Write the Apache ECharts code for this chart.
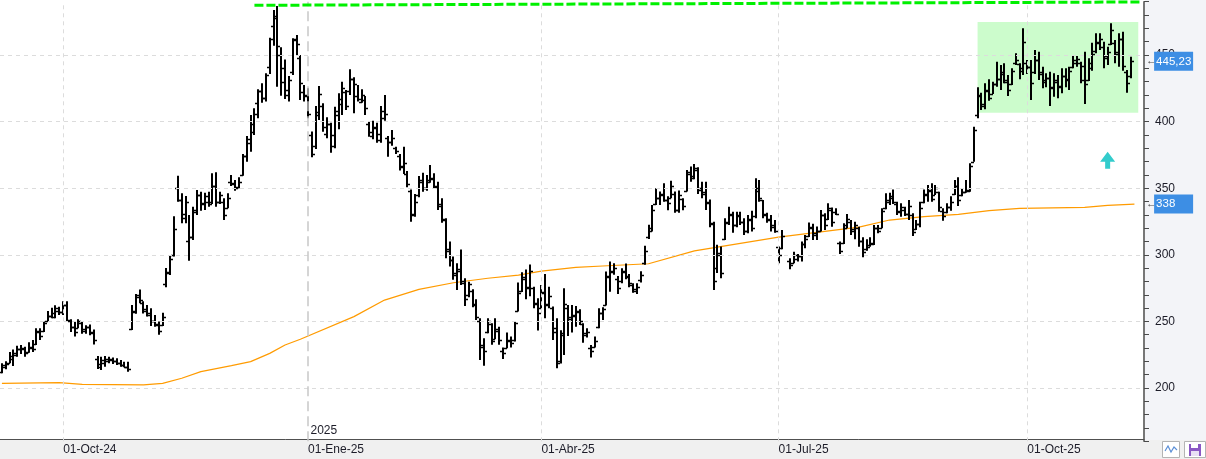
<!DOCTYPE html>
<html>
<head>
<meta charset="utf-8">
<script src="https://cdn.jsdelivr.net/npm/echarts@6/dist/echarts.min.js"></script>
<style>
html, body { margin: 0; padding: 0; background: #fff; }
#chart { width: 1206px; height: 459px; }
</style>
</head>
<body>
<div id="chart"></div>
<script>
// daily bars [open, high, low, close]; null = empty slot
const bars = [
  [212,218.5,211,217],[216,220,214,218],[219,227,218.5,224],[222,229,216.6,226],[225,231.8,223.5,229],
  [229,232.3,225.5,230],[229,231,223.5,226],[227,234.3,226.5,231],[230,236,227,229],[233,244.8,232.3,243],
  [242,244.8,236,239],[243,250,242,249],[250,257.8,250,254],[254,260.3,252.3,256],[253,262.2,252.3,260],
  [258,261,254.8,257],[257,265.2,254.8,262],[262,265.2,249.5,251],[250,251.6,242,246],[246,250,238.7,242],
  [245,251.6,244.8,250],[249,250,240.7,243],[244,247.2,240.7,246],[246,247.7,239.7,241],[242,243.9,232.6,236],
  [222,224,214.3,218],[216,223.5,213.5,221],[219,224,216,222],[220,223.5,218.5,222],[221,223,218,220],
  [220,222.3,217.3,219],[219,221,216,217],[217,219.8,215.5,216],[216,219.8,212.3,214],[244,262.3,243.5,258],
  [257,270.5,255.8,268],[270,274,263.7,266],[264,265.2,256,259],[258,262.3,253.6,255],[256,259.8,246.6,250],
  [250,254.8,246,248],[247,250,240,243],[247,256.5,246.6,253],[278,290,275.6,286],[287,299.4,284.9,297],
  [300,329,298.7,319],[350,359.4,339.9,341],[341,346.2,323.7,331],[328,344.1,323.7,340],[310,329.9,295.6,313],
  [313,336.1,311.1,332],[334,348.7,329.9,345],[345,347.4,333.1,338],[339,346.6,333.6,344],[340,347.4,336.1,338],
  [340,361.2,338.2,352],[352,361.9,336.1,340],[340,347.4,338.2,345],[340,342.4,326.1,330],[335,346.2,334.9,343],
  [355,359.9,351.7,354],[353,356.2,348.1,350],[351,358.2,350,355],[360,375.7,359.4,374],[374,389.2,369.9,387],
  [384,405,377.4,398],[392,410,390,406],[414,424.2,402.5,423],[423,428.8,414.2,418],[418,436.3,415,435],
  [441,463,435.7,462],[472,483.8,457,479],[478,486.8,426.2,457],[450,455.8,419.4,440],[430,446.7,417,424],
  [420,434.2,415,431],[437,462.5,435,461],[462,465,450,458],[448,450,416.2,429],[422,427.5,415,419],
  [420,425,402.5,406],[390,392.5,373.2,376],[382,411.7,379.5,405],[407,426.7,401.2,421],[412,413.7,392.4,396],
  [391,403.3,387.5,398],[398,399.2,376.7,390],[382,411.2,380,408],[405,421.2,394.2,417],[413,430,405,425],
  [422,423.7,408.7,412],[423,439.3,420,432],[432,433.3,406.2,428],[419,427.5,415,417],[414.5,424.2,414.2,420],
  [416,419.2,405,410],[398,400,388.7,392],[389,400.7,386.7,395],[396,399.2,384.2,391],[386,411.7,384.2,408],
  [403,420,400.7,406],[388,389.2,373.7,385],[385,393.7,381.8,388],[380,381.2,375.7,378],[374,375.7,363.2,366],
  [367,381.2,360.7,369],[361,363,350.7,353],[348,349.1,324.9,330],[331,345.6,328.6,340],[345,359.2,343.2,356],
  [355,361.6,347.4,350],[350,359.9,348.1,355],[356,367.4,354.1,358],[357,361.2,350,352],[351,354.9,333.6,337],
  [338,342.4,324.1,327],[326,327.4,297.4,303],[304,309.9,291.2,296],[296,298.7,281.2,286],[285,293.7,273.6,289],
  [288,304,277.3,279],[280,282.4,261.6,267],[270,279.8,268.1,278],[273,274.1,260.6,263],[262,266.6,251.1,253],
  [250,252.3,221,231],[232,237.3,216.8,228],[242,252.3,241.1,250],[248,248.6,232.4,235],[237,252.3,236.6,244],
  [243,246,232.4,236],[228,230.5,221.7,226],[230,241.7,229.9,236],[235,238.7,230.5,234],[236,250,235,249],
  [258,279.2,257.4,271],[273,286.9,272.1,283],[282,288.9,266.6,275],[276,292.7,268.9,288],[275,276.1,259.8,264],
  [263,267.4,243.1,256],[260,277.3,259.8,272],[271,285.6,252.3,262],[263,276.1,259.8,269],[260,261.1,236.1,242],
  [245,252.3,214.8,219],[220,243.4,218.4,240],[241,274.8,224.8,263],[260,262.3,239,253],[252,262.3,241.6,255],
  [254,261.6,246,258],[257,259.1,247.3,250],[248,248.6,234,241],[240,244.8,238,242],[230,232.3,223,228],
  [231,238.7,230.5,235],[246,259.8,244.8,256],[256,260.6,251.1,259],[262,287.5,262,284],[283,295,272.3,287],
  [288,293.7,285,290],[282,284.1,270.6,275],[280,289.9,278.6,288],[287,293.5,281.6,284],[283,285.6,275.6,279],
  [277,278.6,271.6,273],[274,278.6,270.6,276],[281,287.6,279.2,285],[294,306.8,292.5,303],[313,322.6,311.8,318],
  [320,337.4,317.4,334],[338,350,337.4,343],[343,347.5,337.4,346],[345,353.8,339.9,341],[341,343.9,333.4,339],
  [343,355.6,342.4,352],[346,347.5,331.6,334],[334,348.2,331.6,345],[342,342.4,333.4,337],[348,363.7,347.5,362],
  [361,366.2,354.9,358],[359,368.2,356.7,365],[364,365.7,345.6,349],[350,354.9,342.4,346],[347,354.9,333.6,340],
  [339,341.6,320.6,324],[323,324.9,273.6,280],[290,307.5,286.3,301],[300,306.2,282.4,286],[312,327.4,311.1,325],
  [324,336.1,322.4,331],[330,332.4,316.6,322],[322,332.4,320.6,330],[329,332.4,322.4,325],[325,327.4,314.9,318],
  [318,329.9,316.2,327],[326,333.1,317.4,320],[329,357.4,327.4,348],[350,356.2,339.9,343],[341,341.1,327.4,331],
  [330,331.6,324.1,327],[326,329.9,317.4,322],[321,326.1,316.6,318],[306,306.2,293.7,300],[305,318.6,304.1,314],
  null,
  [295,297.5,289.2,292],[294,302.3,293.7,300],[297,300.6,294.9,299],[299,309.9,294.9,308],[308,314.9,304.9,312],
  [314,324.3,313.3,321],[320,323.3,311.1,315],[316,321.3,311.1,318],[318,333.6,317.4,330],[330,331.1,318.6,322],
  [327,338.7,326.1,335],[334,335.6,321.1,325],[332,334.9,329.9,331],[309,309.9,300.6,303],[309,323.6,308.1,320],
  [322,330.6,319.9,327],[325,326.1,314.9,318],[319,324.9,311.6,322],[320,321.1,306.1,310],[310,313.1,298.1,302],
  [304,311.6,303.1,306],[307,313.1,306.1,309],[308,322.4,307.4,320],[320,322.4,316.1,318],[320,334.9,319.9,333],
  [335,346.2,334.2,341],[340,346.6,337.4,344],[343,349.1,338.1,340],[338,339.9,329.9,332],[333,338.7,328.6,336],
  [334,336.1,329.1,331],[331,341.1,326.1,337],[330,331.1,314.1,317],[319,326.1,318.6,323],[323,339.9,320.6,335],
  [340,349.1,338.7,346],[345,352.4,339.9,349],[348,353.7,339.9,342],[345,352.4,344.9,350],[347,347.4,332.4,336],
  [333,334.9,325.6,329],[332,338.7,331.1,336],[336,343.9,333.1,340],[346,356.2,344.9,352],[352,358.2,336.6,341],
  [345,350,343.9,347],[347,356.2,346.6,349],[348,368.7,347.4,367],[370,396.2,369.9,394],[405,425.8,402.5,420],
  [419,421.7,408.7,413],[412,428.8,409.3,424],[423,431.8,415.7,418],[421,430,420.7,428],[428,445,426.2,432],
  [432,442.5,423.7,437],[436,443.8,428.8,430],[431,435,419.2,424],[428,440,427.5,438],[444,451.3,442.5,446],
  [443,443.8,431.8,438],[440,470,435,460],[444,446.2,435.7,441],[441,446.2,416.2,429],[437,453.8,435.7,446],
  [446,452.5,431.2,436],[437,441.2,425,430],[431,436.2,425.7,433],[433,437.5,411.7,426],[425,436.2,418.7,431],
  [430,435,417.5,426],[427,440,421.2,434],[434,440,425.7,431],[432,441.2,423.7,438],[441,450,440,446],
  [444,449.2,441.2,447],[444,445,428.8,442],[431,452.5,413.2,428],[431,447.5,430.5,444],[440,459.2,438.2,451],
  [453,466.3,451.3,460],[459,466.3,453.8,462],[456,460,440,449],[448,456.2,442.5,452],[458,473.8,457.5,469],
  [459,461.3,443.8,451],[452,466.3,441.2,462],[462,467.5,438.2,442],[437,438.7,421.7,429],[434,448.7,432.5,445.23]
]
const slotCount = 299

// x axis date ticks (bar slot -> label)
const tickIdx = [16, 80, 141, 203, 268]
const tickText = ['01-Oct-24', '01-Ene-25', '01-Abr-25', '01-Jul-25', '01-Oct-25']
const yearIdx = 80
const yearText = '2025'

const gridValues = [200, 250, 300, 350, 400, 450]

// moving average read at sample slots [slot, value]
const maPoints = [
  [0,203.5],[15,204],[21,202.8],[37,202.3],[42,203.5],[47,207.3],[52,212.3],[60,216.8],[65,219.8],
  [70,226],[74,232.3],[78,236.6],[92,253.6],[100,266],[109,274],[118,279],[127,282.4],[135,284.8],
  [141,287.8],[150,290.5],[157,291.6],[169,293.3],[181,303],[203,313.3],[224,320.8],[232,326.1],
  [241,328.6],[250,330.4],[258,333.1],[266,334.9],[283,335.6],[289,337.1],[296,338.1]
]

// drawings
const resistLine = [[66, 487.3], [298, 489.8]]
const boxSlots = [255, 297]
const boxValues = [406.7, 474.8]
const arrowAt = [289, 371]

const slots = Array.from({ length: slotCount }, (_, i) => String(i))
const ohlcData = []
bars.forEach((b, i) => { if (b) ohlcData.push([i, b[0], b[1], b[2], b[3]]) })
const lastIdx = bars.length - 1
const lastClose = bars[lastIdx][3]
const maLast = maPoints[maPoints.length - 1][1]

const fontFamily = 'Liberation Sans, Arial, sans-serif'

const renderBar = (params, api) => {
  const i = api.value(0)
  const x = Math.round(api.coord([i, 300])[0])
  const yO = Math.round(api.coord([i, api.value(1)])[1]) + 0.5
  const yH = api.coord([i, api.value(2)])[1]
  const yL = api.coord([i, api.value(3)])[1]
  const yC = Math.round(api.coord([i, api.value(4)])[1]) + 0.5
  return {
    type: 'group',
    children: [
      { type: 'line', shape: { x1: x, y1: yH, x2: x, y2: yL }, style: { stroke: '#000', lineWidth: 2 } },
      { type: 'line', shape: { x1: x - 3, y1: yO, x2: x, y2: yO }, style: { stroke: '#000', lineWidth: 1.5 } },
      { type: 'line', shape: { x1: x, y1: yC, x2: x + 3, y2: yC }, style: { stroke: '#000', lineWidth: 1.5 } }
    ]
  }
}

const priceTag = (coord, text) => ({
  coord,
  symbol: 'circle',
  symbolSize: 1,
  itemStyle: { color: 'rgba(0,0,0,0)' },
  label: {
    show: true,
    position: 'right',
    distance: 15,
    formatter: '{a|←}{b|' + text + '}',
    rich: {
      a: { color: '#444', fontSize: 11, width: 8, fontFamily },
      b: { backgroundColor: '#3d8ee4', color: '#fff', fontSize: 11.5, fontFamily, width: 35, height: 13, lineHeight: 13, padding: [3, 2, 3, 2] }
    }
  }
})

const chart = echarts.init(document.getElementById('chart'))
chart.setOption({
  animation: false,
  backgroundColor: '#fff',
  grid: { left: 0, right: 62, top: 1.7, bottom: 17.7 },
  xAxis: {
    type: 'category',
    data: slots,
    boundaryGap: true,
    offset: -2.3,
    axisLine: { lineStyle: { color: '#505050', width: 1 } },
    axisTick: { interval: (i) => tickIdx.includes(i), alignWithLabel: true, length: 8, lineStyle: { color: '#333' } },
    axisLabel: {
      interval: (i) => tickIdx.includes(i),
      formatter: (v, i) => tickText[tickIdx.indexOf(i)] || '',
      align: 'left', margin: 5, color: '#1c1c28', fontSize: 12, fontFamily
    },
    splitLine: { show: false }
  },
  yAxis: {
    type: 'value',
    position: 'right',
    min: 160, max: 490, interval: 10,
    splitLine: { show: false },
    axisLine: { show: true, lineStyle: { color: '#4a4a4a', width: 1.5 } },
    axisTick: { show: true, length: 5, lineStyle: { color: '#4a4a4a' } },
    axisLabel: { formatter: (v) => (v % 50 === 0 ? String(v) : ''), margin: 11, color: '#1c1c28', fontSize: 12, fontFamily }
  },
  graphic: [
    { type: 'rect', z: -10, silent: true, shape: { x: 1145, y: 0, width: 61, height: 440 }, style: { fill: '#f3f4f8' } },
    { type: 'rect', z: -10, silent: true, shape: { x: 0, y: 440, width: 1206, height: 19 }, style: { fill: '#f0f0f0' } },
    { type: 'rect', silent: true, shape: { x: 1162.5, y: 441.5, width: 17, height: 16 }, style: { fill: '#fff', stroke: '#b4b4b4' } },
    { type: 'polyline', silent: true, shape: { points: [[1165, 451], [1168, 446], [1171, 452], [1174, 447], [1177, 450]] }, style: { stroke: '#5b8fd6', lineWidth: 1.2, fill: null } },
    { type: 'rect', silent: true, shape: { x: 1184.5, y: 441.5, width: 21, height: 16 }, style: { fill: '#fff', stroke: '#b4b4b4' } },
    { type: 'rect', silent: true, shape: { x: 1189, y: 444, width: 12, height: 12 }, style: { fill: '#8a58c4' } },
    { type: 'rect', silent: true, shape: { x: 1191, y: 444, width: 7, height: 4 }, style: { fill: '#fff' } },
    { type: 'rect', silent: true, shape: { x: 1191, y: 451, width: 8, height: 5 }, style: { fill: '#e8e0f4' } }
  ],
  series: [
    {
      // background: grid lines and the range box
      type: 'line',
      data: [],
      z: 1,
      silent: true,
      markArea: {
        silent: true,
        itemStyle: { color: '#ccfccc' },
        data: [[{ xAxis: boxSlots[0], yAxis: boxValues[1] }, { xAxis: boxSlots[1], yAxis: boxValues[0] }]]
      },
      markLine: {
        silent: true,
        symbol: ['none', 'none'],
        label: { show: false },
        lineStyle: { color: '#dcdcdc', type: [4, 4], width: 1 },
        data: [
          ...gridValues.map((v) => ({ yAxis: v })),
          ...tickIdx.filter((i) => i !== yearIdx).map((i) => ({ xAxis: i })),
          { xAxis: yearIdx, lineStyle: { color: '#c8c8c8', type: [10, 5], width: 1.5 } }
        ]
      },
      markPoint: {
        silent: true,
        data: [{
          coord: [yearIdx, 168],
          symbol: 'circle', symbolSize: 1, itemStyle: { color: 'rgba(0,0,0,0)' },
          label: { show: true, position: 'right', distance: 2, formatter: yearText, color: '#1c1c28', fontSize: 12, fontFamily }
        }]
      }
    },
    {
      name: 'MA',
      type: 'line',
      data: maPoints,
      z: 2,
      showSymbol: false,
      lineStyle: { color: '#ff9b00', width: 1.2 }
    },
    {
      name: 'OHLC',
      type: 'custom',
      z: 3,
      renderItem: renderBar,
      encode: { x: 0, y: [1, 2, 3, 4] },
      data: ohlcData
    },
    {
      type: 'line',
      data: [],
      z: 4,
      silent: true,
      markLine: {
        silent: true,
        symbol: ['none', 'none'],
        label: { show: false },
        lineStyle: { color: '#00f000', type: [9, 3], width: 3 },
        data: [[{ coord: resistLine[0] }, { coord: resistLine[1] }]]
      },
      markPoint: {
        silent: true,
        data: [
          {
            coord: arrowAt,
            symbol: 'path://M7.5,0 L15,10 L10,10 L10,17 L5,17 L5,10 L0,10 Z',
            symbolSize: [15, 17],
            itemStyle: { color: '#33cccc' },
            label: { show: false }
          },
          priceTag([lastIdx, lastClose], lastClose.toFixed(2).replace('.', ',')),
          priceTag([lastIdx, maLast], String(Math.round(maLast)))
        ]
      }
    }
  ]
})
</script>
</body>
</html>
